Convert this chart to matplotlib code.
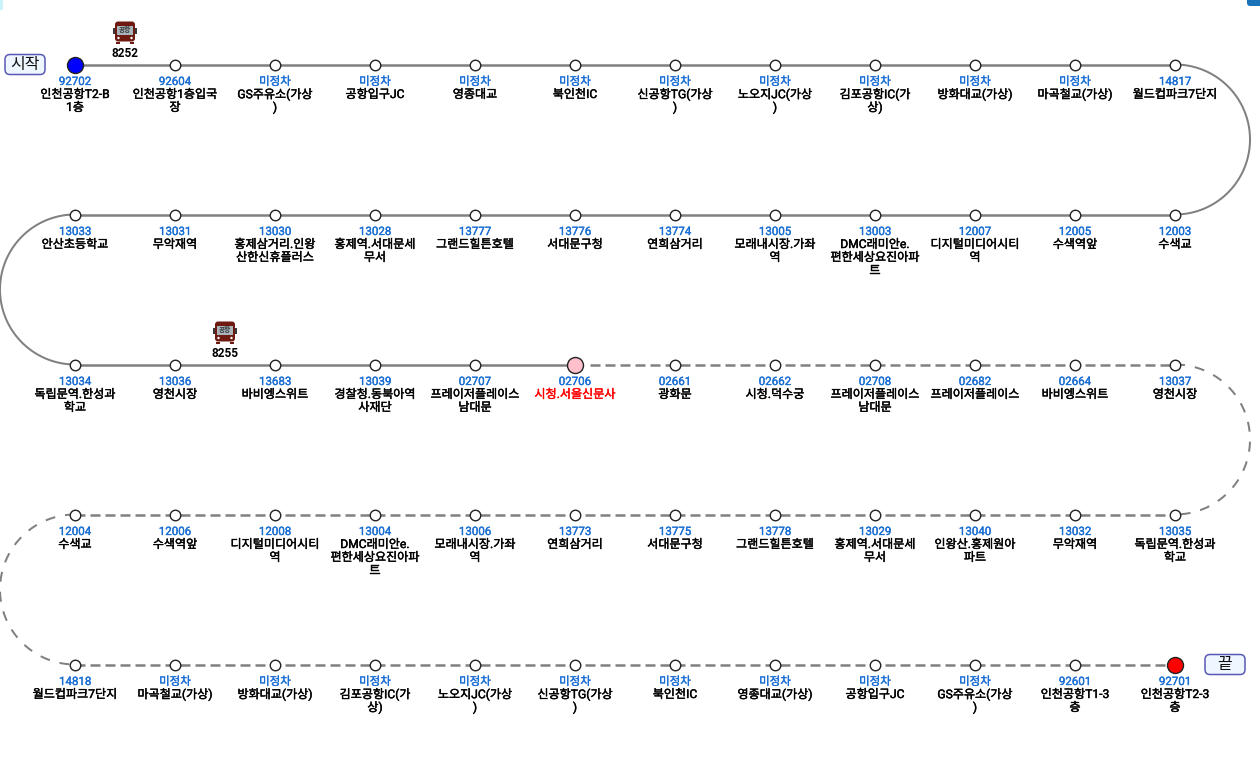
import numpy as np
import matplotlib
matplotlib.use("Agg")
import matplotlib.pyplot as plt
import matplotlib.patheffects as pe
from matplotlib.patches import FancyBboxPatch, Rectangle, Circle

plt.rcParams['font.family'] = ['Roboto', 'Noto Sans CJK KR', 'DejaVu Sans']
plt.rcParams['lines.scale_dashes'] = False

# every row is listed left to right
row0_ids = ["92702", "92604", "미정차", "미정차", "미정차", "미정차", "미정차", "미정차", "미정차", "미정차", "미정차", "14817"]
row0_names = ["인천공항T2-B\n1층", "인천공항1층입국\n장", "GS주유소(가상\n)", "공항입구JC", "영종대교", "북인천IC", "신공항TG(가상\n)",
              "노오지JC(가상\n)", "김포공항IC(가\n상)", "방화대교(가상)", "마곡철교(가상)", "월드컵파크7단지"]
row1_ids = ["13033", "13031", "13030", "13028", "13777", "13776", "13774", "13005", "13003", "12007", "12005", "12003"]
row1_names = ["안산초등학교", "무악재역", "홍제삼거리.인왕\n산한신휴플러스", "홍제역.서대문세\n무서", "그랜드힐튼호텔", "서대문구청", "연희삼거리",
              "모래내시장.가좌\n역", "DMC래미안e.\n편한세상요진아파\n트", "디지털미디어시티\n역", "수색역앞", "수색교"]
row2_ids = ["13034", "13036", "13683", "13039", "02707", "02706", "02661", "02662", "02708", "02682", "02664", "13037"]
row2_names = ["독립문역.한성과\n학교", "영천시장", "바비엥스위트", "경찰청.동북아역\n사재단", "프레이저플레이스\n남대문", "시청.서울신문사", "광화문",
              "시청.덕수궁", "프레이저플레이스\n남대문", "프레이저플레이스", "바비엥스위트", "영천시장"]
row3_ids = ["12004", "12006", "12008", "13004", "13006", "13773", "13775", "13778", "13029", "13040", "13032", "13035"]
row3_names = ["수색교", "수색역앞", "디지털미디어시티\n역", "DMC래미안e.\n편한세상요진아파\n트", "모래내시장.가좌\n역", "연희삼거리", "서대문구청",
              "그랜드힐튼호텔", "홍제역.서대문세\n무서", "인왕산.홍제원아\n파트", "무악재역", "독립문역.한성과\n학교"]
row4_ids = ["14818", "미정차", "미정차", "미정차", "미정차", "미정차", "미정차", "미정차", "미정차", "미정차", "92601", "92701"]
row4_names = ["월드컵파크7단지", "마곡철교(가상)", "방화대교(가상)", "김포공항IC(가\n상)", "노오지JC(가상\n)", "신공항TG(가상\n)", "북인천IC",
              "영종대교(가상)", "공항입구JC", "GS주유소(가상\n)", "인천공항T1-3\n층", "인천공항T2-3\n층"]
rows_ids = [row0_ids, row1_ids, row2_ids, row3_ids, row4_ids]
rows_names = [row0_names, row1_names, row2_names, row3_names, row4_names]

bus_numbers = ["8252", "8255"]
bus_slots = [(0, 0.5), (2, 1.5)]  # row, stop position between stops

LINE = "#808080"
ID_BLUE = "#1a6fd4"
DASH = (0, (7.2, 3.6))
ARC_DASH = (0, (7.2, 7.2))

X0, DX = 75, 100
Y0, DY = 64.5, 150
xs = X0 + DX * np.arange(12)
ys = Y0 + DY * np.arange(5)

fig = plt.figure(figsize=(12.6, 7.6), dpi=100)
ax = fig.add_axes([0, 0, 1, 1])
ax.set_xlim(0, 1260)
ax.set_ylim(760, 0)
ax.axis("off")

# corners of the page behind the chart
ax.add_patch(FancyBboxPatch((1247, -8), 20, 14, boxstyle="round,pad=0,rounding_size=3", fc="#1a73b8", ec="none"))
ax.add_patch(Rectangle((0, 0), 3, 10, fc="#c8f4fa", ec="none"))


def thick(color, w=0.3):
    # hangul only has regular and bold here, the reference sits between them
    return [pe.withStroke(linewidth=w, foreground=color)]


def arc(row, right, dashed):
    r = DY / 2
    cy = ys[row] + r
    t = np.linspace(-np.pi / 2, np.pi / 2, 100)
    cx = xs[-1] if right else xs[0]
    sign = 1 if right else -1
    ax.plot(cx + sign * r * np.cos(t), cy + r * np.sin(t), color=LINE, lw=1.44,
            ls=ARC_DASH if dashed else "-", dash_capstyle="butt", zorder=1)


ax.plot([xs[0], xs[-1]], [ys[0], ys[0]], color=LINE, lw=1.8, zorder=1)
ax.plot([xs[0], xs[-1]], [ys[1], ys[1]], color=LINE, lw=1.8, zorder=1)
ax.plot([xs[0], xs[5]], [ys[2], ys[2]], color=LINE, lw=1.8, zorder=1)
ax.plot([xs[5] + 15, xs[-1]], [ys[2], ys[2]], color=LINE, lw=1.8, ls=DASH, dash_capstyle="butt", zorder=1)
ax.plot([xs[0], xs[-1]], [ys[3], ys[3]], color=LINE, lw=1.8, ls=DASH, dash_capstyle="butt", zorder=1)
ax.plot([xs[0], xs[-1]], [ys[4], ys[4]], color=LINE, lw=1.8, ls=DASH, dash_capstyle="butt", zorder=1)
arc(0, True, False)
arc(1, False, False)
arc(2, True, True)
arc(3, False, True)

for r, (ids, names) in enumerate(zip(rows_ids, rows_names)):
    for i, (sid, name) in enumerate(zip(ids, names)):
        x, y = xs[i], ys[r]
        fc, size = "white", 10.5
        if (r, i) == (0, 0):
            fc, size = "#0000ff", 16
        elif (r, i) == (2, 5):
            fc, size = "#ffc0cb", 16
        elif (r, i) == (4, 11):
            fc, size = "#ff0000", 16
        ax.plot([x], [y], "o", ms=size * 0.72, mfc=fc, mec="#222222", mew=1.0, zorder=3)
        ax.text(x, y + 17, sid, ha="center", va="center", fontsize=8.3, color=ID_BLUE,
                path_effects=thick(ID_BLUE, 0.25))
        color = "#ff0000" if (r, i) == (2, 5) else "#000000"
        for k, line in enumerate(name.split("\n")):
            ax.text(x, y + 30 + 13 * k, line, ha="center", va="center", fontsize=8.7, color=color,
                    path_effects=thick(color))

# buses
for (r, pos), num in zip(bus_slots, bus_numbers):
    cx = X0 + DX * pos
    cy = ys[r] - 32
    ax.add_patch(Rectangle((cx - 12, cy - 5), 24, 6, fc="#3a3a3a", ec="none", zorder=2))
    ax.add_patch(FancyBboxPatch((cx - 10, cy - 11), 20, 20, boxstyle="round,pad=0,rounding_size=3", fc="#6e1a10", ec="none", zorder=3))
    ax.add_patch(Rectangle((cx - 8, cy - 7), 16, 9, fc="#a9b4bb", ec="none", zorder=4))
    ax.text(cx, cy - 2.5, "공항", ha="center", va="center", fontsize=4.8, color="#333333", fontweight="bold", zorder=5)
    ax.add_patch(Rectangle((cx - 9, cy + 9), 4, 2, fc="#6e1a10", ec="none", zorder=3))
    ax.add_patch(Rectangle((cx + 5, cy + 9), 4, 2, fc="#6e1a10", ec="none", zorder=3))
    ax.add_patch(Circle((cx - 6.5, cy + 5.5), 1.2, fc="white", ec="none", zorder=4))
    ax.add_patch(Circle((cx + 6.5, cy + 5.5), 1.2, fc="white", ec="none", zorder=4))
    ax.text(cx, cy + 21, num, ha="center", va="center", fontsize=8.6, fontweight="bold", color="black")

# start / end badges
for x, y, label in [(5, 54.5, "시작"), (1205, 654.5, "끝")]:
    ax.add_patch(FancyBboxPatch((x, y), 40, 20, boxstyle="round,pad=0,rounding_size=5", fc="#eef6ff", ec="#5a5ab4", lw=1.1, zorder=2))
    ax.text(x + 20, y + 10, label, ha="center", va="center", fontsize=11.5, color="#111111", zorder=3)

fig.savefig("out.png", dpi=100, facecolor="white")
